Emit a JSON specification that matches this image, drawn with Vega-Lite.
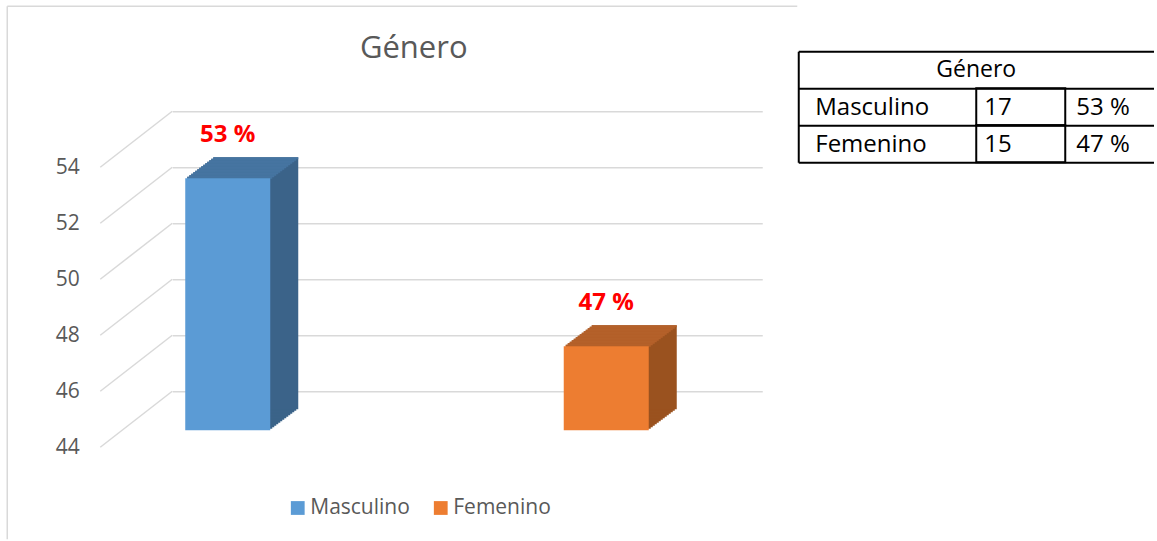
{
 "$schema": "https://vega.github.io/schema/vega-lite/v6.json",
 "background": "white",
 "padding": {"left": 6.25, "top": 5.25, "right": 0, "bottom": 0},
 "spacing": 0,
 "datasets": {
  "genero": [
   {"genero": "Masculino", "n": 17, "pct": 53, "pct_txt": "53 %"},
   {"genero": "Femenino", "n": 15, "pct": 47, "pct_txt": "47 %"}
  ],
  "ticks": [{"v": 44}, {"v": 46}, {"v": 48}, {"v": 50}, {"v": 52}, {"v": 54}]
 },
 "config": {"font": "Open Sans", "view": {"stroke": null}},
 "hconcat": [
  {
   "width": 590, "height": 340,
   "data": {"name": "genero"},
   "title": {"text": "Género", "fontSize": 31, "fontWeight": "normal", "color": "#595959", "anchor": "middle", "frame": "bounds", "dx": 11.5, "offset": -83, "baseline": "alphabetic"},
   "encoding": {
    "x": {"field": "genero", "type": "nominal", "sort": null, "scale": {"domain": ["Masculino", "Femenino"], "paddingInner": 0.7754, "paddingOuter": 0.1671}, "axis": null},
    "y": {"field": "pct", "type": "quantitative", "scale": {"domain": [44, 56.142857], "nice": false, "zero": false},
          "axis": {"values": [44, 46, 48, 50, 52, 54], "grid": true, "gridColor": "#d9d9d9", "gridWidth": 1.5, "domain": false, "ticks": false, "tickSize": 0, "labelPadding": 93, "labelOffset": 56, "labelFontSize": 21, "labelColor": "#595959", "labelFont": "Open Sans", "title": null}}
   },
   "layer": [
    {"data": {"values": [{}]}, "mark": {"type": "rule", "color": "#d9d9d9", "strokeWidth": 1.5}, "encoding": {"x": {"value": -165}, "x2": {"value": 625}, "y": {"value": -45}}},
    {"data": {"values": [{}]}, "mark": {"type": "rule", "color": "#d9d9d9", "strokeWidth": 1.5}, "encoding": {"x": {"value": -165}, "y": {"value": -45}, "y2": {"value": 488}}},
    {"data": {"name": "ticks"}, "mark": {"type": "rule", "color": "#d9d9d9", "strokeWidth": 1.5, "x2Offset": -72, "y2Offset": 56},
     "encoding": {"y": {"field": "v", "type": "quantitative", "scale": {"domain": [44, 56.142857], "nice": false, "zero": false}}, "y2": {"field": "v"}, "x": {"value": 0}, "x2": {"value": 0}}},
    {"mark": {"type": "bar", "xOffset": -48.25, "yOffset": 37.5, "y2Offset": 37.5}, "encoding": {"y2": {"datum": 44}, "color": {"condition": {"test": "datum.genero === 'Masculino'", "value": "#3b6389"}, "value": "#9a521f"}}},
    {"mark": {"type": "bar", "xOffset": -46.25, "yOffset": 36, "y2Offset": 36}, "encoding": {"y2": {"datum": 44}, "color": {"condition": {"test": "datum.genero === 'Masculino'", "value": "#3b6389"}, "value": "#9a521f"}}},
    {"mark": {"type": "bar", "xOffset": -44.25, "yOffset": 34.5, "y2Offset": 34.5}, "encoding": {"y2": {"datum": 44}, "color": {"condition": {"test": "datum.genero === 'Masculino'", "value": "#3b6389"}, "value": "#9a521f"}}},
    {"mark": {"type": "bar", "xOffset": -42.25, "yOffset": 33, "y2Offset": 33}, "encoding": {"y2": {"datum": 44}, "color": {"condition": {"test": "datum.genero === 'Masculino'", "value": "#3b6389"}, "value": "#9a521f"}}},
    {"mark": {"type": "bar", "xOffset": -40.25, "yOffset": 31.5, "y2Offset": 31.5}, "encoding": {"y2": {"datum": 44}, "color": {"condition": {"test": "datum.genero === 'Masculino'", "value": "#3b6389"}, "value": "#9a521f"}}},
    {"mark": {"type": "bar", "xOffset": -38.25, "yOffset": 30, "y2Offset": 30}, "encoding": {"y2": {"datum": 44}, "color": {"condition": {"test": "datum.genero === 'Masculino'", "value": "#3b6389"}, "value": "#9a521f"}}},
    {"mark": {"type": "bar", "xOffset": -36.25, "yOffset": 28.5, "y2Offset": 28.5}, "encoding": {"y2": {"datum": 44}, "color": {"condition": {"test": "datum.genero === 'Masculino'", "value": "#3b6389"}, "value": "#9a521f"}}},
    {"mark": {"type": "bar", "xOffset": -34.25, "yOffset": 27, "y2Offset": 27}, "encoding": {"y2": {"datum": 44}, "color": {"condition": {"test": "datum.genero === 'Masculino'", "value": "#3b6389"}, "value": "#9a521f"}}},
    {"mark": {"type": "bar", "xOffset": -32.25, "yOffset": 25.5, "y2Offset": 25.5}, "encoding": {"y2": {"datum": 44}, "color": {"condition": {"test": "datum.genero === 'Masculino'", "value": "#3b6389"}, "value": "#9a521f"}}},
    {"mark": {"type": "bar", "xOffset": -30.25, "yOffset": 24, "y2Offset": 24}, "encoding": {"y2": {"datum": 44}, "color": {"condition": {"test": "datum.genero === 'Masculino'", "value": "#3b6389"}, "value": "#9a521f"}}},
    {"mark": {"type": "bar", "xOffset": -28.25, "yOffset": 22.5, "y2Offset": 22.5}, "encoding": {"y2": {"datum": 44}, "color": {"condition": {"test": "datum.genero === 'Masculino'", "value": "#3b6389"}, "value": "#9a521f"}}},
    {"mark": {"type": "bar", "xOffset": -26.25, "yOffset": 21, "y2Offset": 21}, "encoding": {"y2": {"datum": 44}, "color": {"condition": {"test": "datum.genero === 'Masculino'", "value": "#3b6389"}, "value": "#9a521f"}}},
    {"mark": {"type": "bar", "xOffset": -24.25, "yOffset": 19.5, "y2Offset": 19.5}, "encoding": {"y2": {"datum": 44}, "color": {"condition": {"test": "datum.genero === 'Masculino'", "value": "#3b6389"}, "value": "#9a521f"}}},
    {"mark": {"type": "bar", "xOffset": -22.25, "yOffset": 18, "y2Offset": 18}, "encoding": {"y2": {"datum": 44}, "color": {"condition": {"test": "datum.genero === 'Masculino'", "value": "#3b6389"}, "value": "#9a521f"}}},
    {"mark": {"type": "bar", "xOffset": -48.25, "yOffset": 37.5, "y2Offset": 39.5}, "encoding": {"y2": {"field": "pct"}, "color": {"condition": {"test": "datum.genero === 'Masculino'", "value": "#4674a1"}, "value": "#b4612a"}}},
    {"mark": {"type": "bar", "xOffset": -46.25, "yOffset": 36, "y2Offset": 38}, "encoding": {"y2": {"field": "pct"}, "color": {"condition": {"test": "datum.genero === 'Masculino'", "value": "#4674a1"}, "value": "#b4612a"}}},
    {"mark": {"type": "bar", "xOffset": -44.25, "yOffset": 34.5, "y2Offset": 36.5}, "encoding": {"y2": {"field": "pct"}, "color": {"condition": {"test": "datum.genero === 'Masculino'", "value": "#4674a1"}, "value": "#b4612a"}}},
    {"mark": {"type": "bar", "xOffset": -42.25, "yOffset": 33, "y2Offset": 35}, "encoding": {"y2": {"field": "pct"}, "color": {"condition": {"test": "datum.genero === 'Masculino'", "value": "#4674a1"}, "value": "#b4612a"}}},
    {"mark": {"type": "bar", "xOffset": -40.25, "yOffset": 31.5, "y2Offset": 33.5}, "encoding": {"y2": {"field": "pct"}, "color": {"condition": {"test": "datum.genero === 'Masculino'", "value": "#4674a1"}, "value": "#b4612a"}}},
    {"mark": {"type": "bar", "xOffset": -38.25, "yOffset": 30, "y2Offset": 32}, "encoding": {"y2": {"field": "pct"}, "color": {"condition": {"test": "datum.genero === 'Masculino'", "value": "#4674a1"}, "value": "#b4612a"}}},
    {"mark": {"type": "bar", "xOffset": -36.25, "yOffset": 28.5, "y2Offset": 30.5}, "encoding": {"y2": {"field": "pct"}, "color": {"condition": {"test": "datum.genero === 'Masculino'", "value": "#4674a1"}, "value": "#b4612a"}}},
    {"mark": {"type": "bar", "xOffset": -34.25, "yOffset": 27, "y2Offset": 29}, "encoding": {"y2": {"field": "pct"}, "color": {"condition": {"test": "datum.genero === 'Masculino'", "value": "#4674a1"}, "value": "#b4612a"}}},
    {"mark": {"type": "bar", "xOffset": -32.25, "yOffset": 25.5, "y2Offset": 27.5}, "encoding": {"y2": {"field": "pct"}, "color": {"condition": {"test": "datum.genero === 'Masculino'", "value": "#4674a1"}, "value": "#b4612a"}}},
    {"mark": {"type": "bar", "xOffset": -30.25, "yOffset": 24, "y2Offset": 26}, "encoding": {"y2": {"field": "pct"}, "color": {"condition": {"test": "datum.genero === 'Masculino'", "value": "#4674a1"}, "value": "#b4612a"}}},
    {"mark": {"type": "bar", "xOffset": -28.25, "yOffset": 22.5, "y2Offset": 24.5}, "encoding": {"y2": {"field": "pct"}, "color": {"condition": {"test": "datum.genero === 'Masculino'", "value": "#4674a1"}, "value": "#b4612a"}}},
    {"mark": {"type": "bar", "xOffset": -26.25, "yOffset": 21, "y2Offset": 23}, "encoding": {"y2": {"field": "pct"}, "color": {"condition": {"test": "datum.genero === 'Masculino'", "value": "#4674a1"}, "value": "#b4612a"}}},
    {"mark": {"type": "bar", "xOffset": -24.25, "yOffset": 19.5, "y2Offset": 21.5}, "encoding": {"y2": {"field": "pct"}, "color": {"condition": {"test": "datum.genero === 'Masculino'", "value": "#4674a1"}, "value": "#b4612a"}}},
    {"mark": {"type": "bar", "xOffset": -22.25, "yOffset": 18, "y2Offset": 20}, "encoding": {"y2": {"field": "pct"}, "color": {"condition": {"test": "datum.genero === 'Masculino'", "value": "#4674a1"}, "value": "#b4612a"}}},
    {"mark": {"type": "bar", "xOffset": -50.25, "yOffset": 39, "y2Offset": 39},
     "encoding": {"y2": {"datum": 44},
      "color": {"field": "genero", "type": "nominal", "scale": {"domain": ["Masculino", "Femenino"], "range": ["#5b9bd5", "#ed7d31"]},
       "legend": {"orient": "none", "legendX": 115, "legendY": 446, "direction": "horizontal", "title": null, "symbolType": "square", "symbolSize": 190, "symbolStrokeWidth": 0, "symbolOpacity": 1, "labelFontSize": 21, "labelFont": "Open Sans", "labelColor": "#595959", "columnPadding": 20, "labelOffset": 2, "padding": 0}}}},
    {"mark": {"type": "text", "xOffset": -50.25, "yOffset": 3, "baseline": "alphabetic", "align": "center", "fontSize": 24, "fontWeight": "bold", "color": "#ff0000", "font": "Open Sans"},
     "encoding": {"text": {"field": "pct_txt"}}}
   ]
  },
  {
   "width": 356, "height": 111,
   "data": {"name": "genero"},
   "layer": [
    {"mark": {"type": "rect", "filled": false, "color": "black", "strokeWidth": 2},
     "encoding": {
      "x": {"datum": "c2", "type": "nominal", "scale": {"domain": ["c1a", "c1b", "c2", "c3"], "paddingInner": 0, "paddingOuter": 0},
            "axis": {"orient": "bottom", "domain": true, "domainColor": "black", "domainWidth": 2, "labels": false, "ticks": false, "grid": false, "title": null}},
      "y": {"field": "genero", "type": "nominal", "scale": {"domain": ["Género", "Masculino", "Femenino"], "paddingInner": 0, "paddingOuter": 0},
            "axis": {"orient": "left", "domain": true, "domainColor": "black", "domainWidth": 2, "labels": false, "ticks": false, "grid": true, "gridColor": "black", "gridWidth": 2, "bandPosition": 0, "title": null}}
     }},
    {"data": {"values": [{}]}, "mark": {"type": "text", "text": "Género", "fontSize": 23, "color": "black", "font": "Open Sans"},
     "encoding": {"x": {"datum": "c1b", "type": "nominal", "bandPosition": 1}, "y": {"datum": "Género", "type": "nominal"}}},
    {"mark": {"type": "text", "align": "left", "dx": 17, "dy": 1, "fontSize": 24, "color": "black", "font": "Open Sans"},
     "encoding": {"x": {"datum": "c1a", "type": "nominal", "bandPosition": 0}, "y": {"field": "genero", "type": "nominal"}, "text": {"field": "genero"}}},
    {"mark": {"type": "text", "align": "left", "dx": 8, "dy": 1, "fontSize": 24, "color": "black", "font": "Open Sans"},
     "encoding": {"x": {"datum": "c2", "type": "nominal", "bandPosition": 0}, "y": {"field": "genero", "type": "nominal"}, "text": {"field": "n"}}},
    {"mark": {"type": "text", "align": "left", "dx": 11, "dy": 1, "fontSize": 24, "color": "black", "font": "Open Sans"},
     "encoding": {"x": {"datum": "c3", "type": "nominal", "bandPosition": 0}, "y": {"field": "genero", "type": "nominal"}, "text": {"field": "pct_txt"}}}
   ]
  }
 ]
}
